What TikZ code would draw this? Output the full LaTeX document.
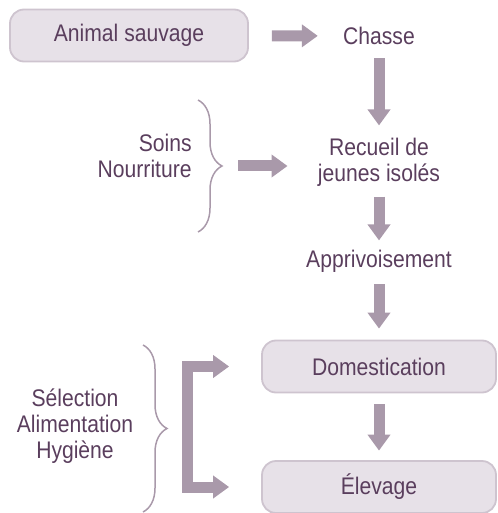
\documentclass[tikz,border=0pt]{standalone}
\usepackage{fontspec}
\setmainfont[FakeStretch=0.88]{Liberation Sans}
\usetikzlibrary{arrows.meta,decorations.pathreplacing}
\definecolor{boxfill}{HTML}{E7E1E8}
\definecolor{boxline}{HTML}{CEC4CF}
\definecolor{arrowcol}{HTML}{A999AA}
\definecolor{textcol}{HTML}{5A3E5D}
\begin{document}
\begin{tikzpicture}[x=0.5pt,y=-0.5pt,
    every node/.style={text=textcol,font=\fontsize{12}{13}\selectfont},
    box/.style={draw=boxline,line width=0.9pt,fill=boxfill,rounded corners=7pt,minimum height=26pt},
    word/.style={inner sep=0pt,align=center},
    fat/.style={draw=arrowcol,line width=5.5pt,>={Triangle[width=11pt,length=8pt]},->},
    brace/.style={draw=arrowcol,line width=0.75pt,decorate,decoration={brace,amplitude=12pt,aspect=0.5}}]
  \useasboundingbox (0,0) rectangle (497,513);
  % top row
  \node[box,minimum width=119pt] (animal) at (129,35.5) {Animal sauvage};
  \node[word] (chasse) at (379,36) {Chasse};
  % middle column
  \node[word] (recueil) at (379,162) {Recueil de\\jeunes isolés};
  \node[word] (appriv) at (379,261.5) {Apprivoisement};
  \node[box,minimum width=117pt] (domest) at (379,366.5) {Domestication};
  \node[box,minimum width=117pt] (elevage) at (379,487) {Élevage};
  % left side
  \node[word,align=right,anchor=east] (soins) at (192,156) {Soins\\Nourriture};
  \node[word] (selection) at (75,426) {Sélection\\Alimentation\\Hygiène};
  \draw[brace] (198,100) -- (198,232);
  \coordinate (tipa) at (222,166);
  \draw[brace] (143,345) -- (143,512);
  % arrows
  \draw[fat,shorten <=11.5pt,shorten >=12.5pt] (animal) -- (chasse);
  \draw[fat,shorten <=6.5pt,shorten >=6pt] (chasse) -- (recueil);
  \draw[fat,shorten <=8pt,shorten >=15pt] (tipa) -- (recueil.west |- tipa);
  \draw[fat,shorten <=5pt,shorten >=4.75pt] (recueil) -- (appriv);
  \draw[fat,shorten <=5.5pt,shorten >=5.5pt] (appriv) -- (domest);
  \draw[fat,shorten <=5.5pt,shorten >=4.75pt] (domest) -- (elevage);
  \draw[fat,<->,shorten <=16pt,shorten >=16pt] (domest.west) -- ++(-73.5,0) |- (elevage.west);
\end{tikzpicture}
\end{document}
